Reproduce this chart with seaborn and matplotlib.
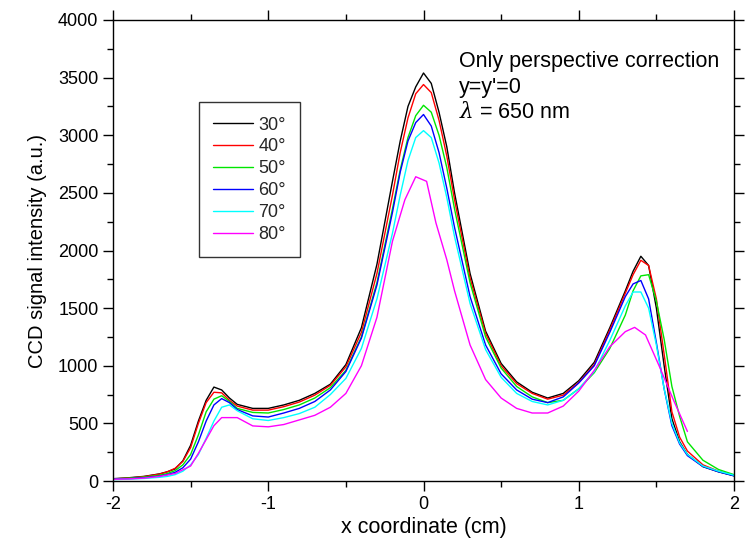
import numpy as np
import pandas as pd
import matplotlib
matplotlib.use("Agg")
import matplotlib.pyplot as plt
import seaborn as sns
from matplotlib.ticker import MultipleLocator

# ---------------- data ----------------
x_common = [-2.0, -1.9, -1.8, -1.7, -1.65, -1.6, -1.55, -1.5, -1.45, -1.4, -1.35, -1.3,
            -1.25, -1.2, -1.1, -1.0, -0.9, -0.8, -0.7, -0.6, -0.5, -0.4, -0.3, -0.2,
            -0.15, -0.1, -0.05, 0.0, 0.05, 0.1, 0.15, 0.2, 0.3, 0.4, 0.5, 0.6, 0.7,
            0.8, 0.9, 1.0, 1.1, 1.2, 1.3, 1.35, 1.4, 1.45, 1.5, 1.55, 1.6, 1.65, 1.7,
            1.8, 1.9, 2.0]

y30 = [20, 28, 40, 62, 80, 105, 175, 310, 520, 700, 815, 790, 720, 665, 630, 630, 660,
       700, 760, 840, 1010, 1330, 1880, 2600, 2950, 3250, 3420, 3540, 3450, 3200, 2900,
       2500, 1800, 1300, 1020, 860, 770, 720, 760, 870, 1030, 1330, 1650, 1820, 1950,
       1870, 1500, 1000, 540, 340, 230, 125, 80, 45]
y40 = [18, 25, 38, 60, 80, 110, 170, 290, 500, 680, 770, 765, 700, 650, 615, 615, 645,
       685, 745, 830, 990, 1290, 1800, 2480, 2850, 3150, 3360, 3440, 3370, 3130, 2820,
       2440, 1760, 1280, 1000, 845, 760, 710, 745, 855, 1010, 1310, 1630, 1790, 1915,
       1870, 1580, 1100, 600, 380, 260, 140, 85, 50]
y50 = [18, 24, 34, 50, 65, 90, 140, 230, 400, 600, 710, 740, 690, 630, 595, 590, 620,
       660, 720, 810, 960, 1250, 1720, 2360, 2700, 2980, 3170, 3260, 3200, 3000, 2720,
       2360, 1720, 1250, 980, 820, 730, 680, 700, 800, 940, 1150, 1440, 1650, 1780,
       1790, 1560, 1230, 820, 560, 340, 180, 100, 55]
y60 = [15, 20, 28, 42, 55, 75, 115, 190, 340, 520, 660, 715, 680, 620, 565, 555, 590,
       630, 690, 790, 950, 1240, 1700, 2330, 2680, 2950, 3110, 3180, 3080, 2850, 2540,
       2200, 1600, 1180, 930, 790, 710, 680, 730, 850, 1000, 1290, 1600, 1710, 1740,
       1580, 1200, 800, 480, 320, 220, 125, 80, 45]
y70 = [12, 16, 22, 32, 40, 55, 85, 140, 230, 370, 520, 640, 660, 610, 540, 525, 550,
       585, 640, 750, 890, 1150, 1580, 2150, 2480, 2780, 2980, 3040, 2980, 2760, 2460,
       2120, 1540, 1140, 900, 760, 690, 660, 700, 800, 950, 1220, 1520, 1640, 1640,
       1500, 1180, 800, 500, 330, 230, 130, 85, 50]

x80 = [-2.0, -1.9, -1.8, -1.7, -1.6, -1.5, -1.45, -1.4, -1.35, -1.3, -1.2, -1.1, -1.0,
       -0.9, -0.8, -0.7, -0.6, -0.5, -0.4, -0.3, -0.2, -0.12, -0.05, 0.02, 0.08, 0.15,
       0.2, 0.3, 0.4, 0.5, 0.6, 0.7, 0.8, 0.9, 1.0, 1.1, 1.2, 1.3, 1.36, 1.43, 1.52,
       1.61, 1.7]
y80 = [15, 18, 25, 40, 65, 130, 240, 360, 480, 550, 550, 478, 470, 490, 530, 570, 640,
       760, 1000, 1420, 2080, 2440, 2640, 2600, 2240, 1920, 1650, 1180, 880, 720, 630,
       590, 590, 650, 780, 960, 1165, 1296, 1333, 1267, 992, 703, 430]

labels = ["30°", "40°", "50°", "60°", "70°", "80°"]
colors = ["#000000", "#FF0000", "#00E600", "#0000FF", "#00FFFF", "#FF00FF"]

x_ticks = [-2, -1, 0, 1, 2]
y_ticks = [0, 500, 1000, 1500, 2000, 2500, 3000, 3500, 4000]

# ---------------- long table ----------------
frames = []
for lab, yy in zip(labels[:5], [y30, y40, y50, y60, y70]):
    frames.append(pd.DataFrame({"x": x_common, "y": yy, "angle": lab}))
frames.append(pd.DataFrame({"x": x80, "y": y80, "angle": labels[5]}))
df = pd.concat(frames, ignore_index=True)

# ---------------- style ----------------
sns.set_theme(style="ticks")
plt.rcParams["font.family"] = ["Liberation Sans", "DejaVu Sans"]
plt.rcParams["mathtext.fontset"] = "custom"
plt.rcParams["mathtext.it"] = "DejaVu Serif:italic"

fig = plt.figure(figsize=(7.45, 5.49), dpi=100)
ax = fig.add_axes([113 / 745, 1 - 481 / 549, (734 - 113) / 745, (481 - 20) / 549])

sns.lineplot(data=df, x="x", y="y", hue="angle", palette=dict(zip(labels, colors)),
             hue_order=labels, estimator=None, sort=True, linewidth=1.0, ax=ax,
             legend=True)

ax.set_xlim(-2, 2)
ax.set_ylim(0, 4000)
ax.set_xticks(x_ticks)
ax.set_xticklabels([str(t) for t in x_ticks])
ax.set_yticks(y_ticks)
ax.xaxis.set_minor_locator(MultipleLocator(0.5))
ax.yaxis.set_minor_locator(MultipleLocator(250))

for s in ax.spines.values():
    s.set_visible(True)
    s.set_color("black")
    s.set_linewidth(1.0)

ax.tick_params(axis="both", which="major", direction="out", length=7, width=1.0,
               colors="black", labelsize=13, top=True, right=True)
ax.tick_params(axis="both", which="minor", direction="out", length=4, width=1.0,
               colors="black", top=True, right=True)
ax.tick_params(axis="x", which="major", pad=4)

ax.set_xlabel("x coordinate (cm)", fontsize=15.5, color="black", labelpad=3)
ax.set_ylabel("CCD signal intensity (a.u.)", fontsize=14.5, color="black", labelpad=8)

handles, labs = ax.get_legend_handles_labels()
leg = ax.legend(handles, labs, loc="upper left", bbox_to_anchor=(0.138, 0.822),
                frameon=True, fancybox=False, fontsize=13, handlelength=2.2,
                handletextpad=0.3, labelspacing=0.27, borderpad=0.8,
                borderaxespad=0)
leg.get_frame().set_edgecolor("black")
leg.get_frame().set_linewidth(1.0)
for line in leg.get_lines():
    line.set_linewidth(1.0)

ax.text(459, 549 - 61, "Only perspective correction", transform=None,
        fontsize=15.5, va="center", ha="left", color="black")
ax.text(459, 549 - 87, "y=y'=0", transform=None,
        fontsize=15.5, va="center", ha="left", color="black")
ax.text(459, 549 - 113, "$\\mathit{\\lambda}$ = 650 nm", transform=None,
        fontsize=15.5, va="center", ha="left", color="black")

fig.savefig("out.png", dpi=100)
